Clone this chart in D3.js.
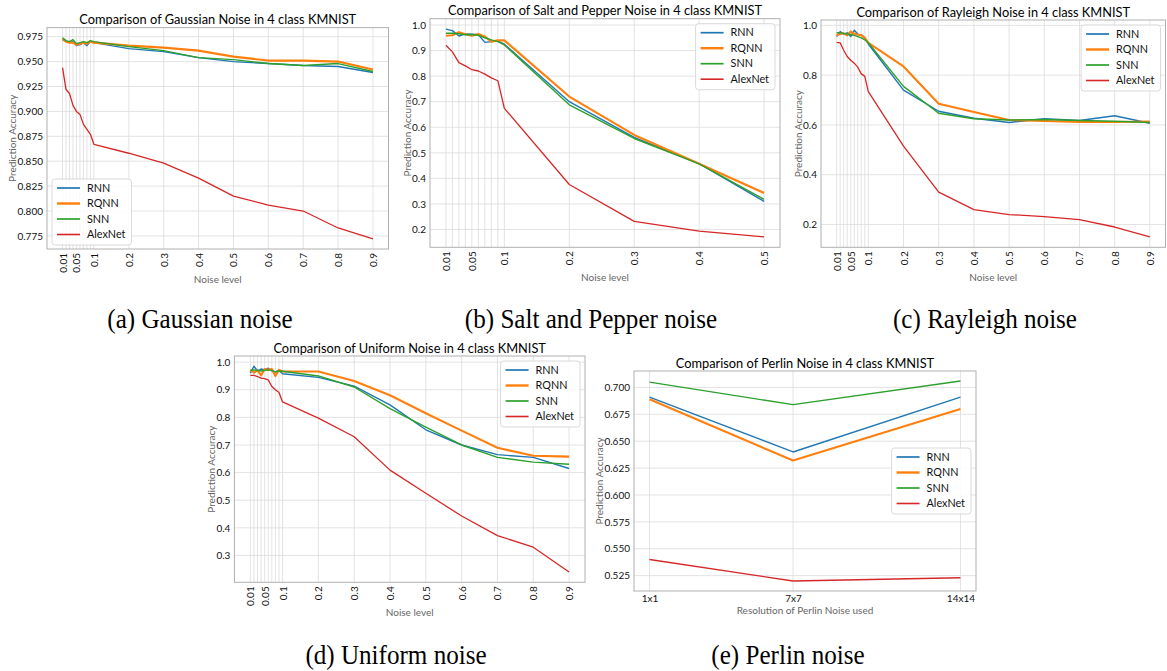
<!DOCTYPE html>
<html>
<head>
<meta charset="utf-8">
<script src="https://cdn.jsdelivr.net/npm/d3@7"></script>
<style>
  body { margin: 0; background: #fff; }
  svg { display: block; font-family: Lato, "Open Sans", sans-serif; }
</style>
</head>
<body>
<svg id="chart" width="1167" height="671"></svg>
<script>
// ---- data ----
const noiseLevels = [0.01, 0.02, 0.03, 0.04, 0.05, 0.06, 0.07, 0.08, 0.09, 0.1, 0.2, 0.3, 0.4, 0.5, 0.6, 0.7, 0.8, 0.9];
const spLevels = [0.01, 0.02, 0.03, 0.04, 0.05, 0.06, 0.07, 0.08, 0.09, 0.1, 0.2, 0.3, 0.4, 0.5];
const noiseTickLabels = [0.01, 0.05, 0.1, 0.2, 0.3, 0.4, 0.5, 0.6, 0.7, 0.8, 0.9];
const spTickLabels = [0.01, 0.05, 0.1, 0.2, 0.3, 0.4, 0.5];
const perlinRes = [1, 7, 14];
const perlinLabels = ["1x1", "7x7", "14x14"];
const models = ["RNN", "RQNN", "SNN", "AlexNet"];

const gaussRNN     = [0.972, 0.970, 0.969, 0.970, 0.966, 0.967, 0.969, 0.966, 0.970, 0.969, 0.963, 0.960, 0.954, 0.950, 0.948, 0.946, 0.945, 0.939];
const gaussRQNN    = [0.973, 0.970, 0.969, 0.969, 0.967, 0.968, 0.969, 0.968, 0.970, 0.969, 0.966, 0.964, 0.961, 0.955, 0.951, 0.951, 0.950, 0.942];
const gaussSNN     = [0.974, 0.971, 0.970, 0.972, 0.968, 0.969, 0.970, 0.969, 0.971, 0.970, 0.965, 0.961, 0.954, 0.952, 0.948, 0.946, 0.948, 0.940];
const gaussAlexNet = [0.944, 0.922, 0.918, 0.906, 0.900, 0.897, 0.887, 0.882, 0.877, 0.867, 0.858, 0.848, 0.833, 0.815, 0.806, 0.800, 0.783, 0.772];

const spRNN     = [0.984, 0.978, 0.957, 0.965, 0.964, 0.962, 0.932, 0.935, 0.937, 0.925, 0.700, 0.560, 0.458, 0.310];
const spRQNN    = [0.958, 0.960, 0.972, 0.964, 0.958, 0.965, 0.955, 0.935, 0.940, 0.940, 0.720, 0.570, 0.457, 0.343];
const spSNN     = [0.968, 0.968, 0.966, 0.962, 0.963, 0.960, 0.950, 0.942, 0.935, 0.922, 0.688, 0.556, 0.457, 0.318];
const spAlexNet = [0.921, 0.895, 0.853, 0.840, 0.825, 0.820, 0.808, 0.793, 0.782, 0.674, 0.376, 0.232, 0.194, 0.171];

const rayRNN     = [0.955, 0.975, 0.965, 0.970, 0.955, 0.980, 0.965, 0.962, 0.950, 0.925, 0.740, 0.655, 0.627, 0.610, 0.625, 0.618, 0.637, 0.607];
const rayRQNN    = [0.960, 0.965, 0.968, 0.960, 0.975, 0.966, 0.962, 0.960, 0.950, 0.930, 0.835, 0.685, 0.652, 0.620, 0.616, 0.612, 0.612, 0.614];
const raySNN     = [0.970, 0.970, 0.968, 0.965, 0.963, 0.960, 0.955, 0.950, 0.942, 0.930, 0.755, 0.647, 0.625, 0.620, 0.622, 0.618, 0.615, 0.610];
const rayAlexNet = [0.932, 0.930, 0.900, 0.875, 0.860, 0.848, 0.832, 0.805, 0.795, 0.734, 0.515, 0.330, 0.260, 0.240, 0.232, 0.220, 0.190, 0.150];

const uniRNN     = [0.960, 0.985, 0.968, 0.975, 0.972, 0.978, 0.968, 0.965, 0.970, 0.958, 0.945, 0.913, 0.845, 0.755, 0.700, 0.665, 0.655, 0.615];
const uniRQNN    = [0.972, 0.962, 0.970, 0.952, 0.975, 0.972, 0.975, 0.950, 0.972, 0.966, 0.966, 0.932, 0.880, 0.815, 0.752, 0.690, 0.661, 0.658];
const uniSNN     = [0.970, 0.972, 0.970, 0.968, 0.970, 0.972, 0.970, 0.965, 0.968, 0.967, 0.950, 0.910, 0.832, 0.765, 0.700, 0.655, 0.638, 0.630];
const uniAlexNet = [0.952, 0.952, 0.948, 0.942, 0.940, 0.936, 0.912, 0.900, 0.890, 0.856, 0.797, 0.730, 0.609, 0.525, 0.443, 0.372, 0.330, 0.240];

const perlinRNN     = [0.691, 0.640, 0.691];
const perlinRQNN    = [0.689, 0.632, 0.680];
const perlinSNN     = [0.705, 0.684, 0.706];
const perlinAlexNet = [0.540, 0.520, 0.523];

const yTicksGauss = [0.775, 0.800, 0.825, 0.850, 0.875, 0.900, 0.925, 0.950, 0.975];
const yTicksSP = [0.2, 0.3, 0.4, 0.5, 0.6, 0.7, 0.8, 0.9, 1.0];
const yTicksRay = [0.2, 0.4, 0.6, 0.8, 1.0];
const yTicksUni = [0.3, 0.4, 0.5, 0.6, 0.7, 0.8, 0.9, 1.0];
const yTicksPerlin = [0.525, 0.550, 0.575, 0.600, 0.625, 0.650, 0.675, 0.700];

const captions = ["(a) Gaussian noise", "(b) Salt and Pepper noise", "(c) Rayleigh noise", "(d) Uniform noise", "(e) Perlin noise"];

// ---- styling ----
const colors = ["#1f77b4", "#ff7f0e", "#2ca02c", "#d62728"];
const widths = [1.4, 2.1, 1.4, 1.3];

const svg = d3.select("#chart");

// matplotlib style 5% padding
function padded(ext) {
    const m = (ext[1] - ext[0]) * 0.05;
    return [ext[0] - m, ext[1] + m];
}

function drawPanel(p) {
    const g = svg.append("g");
    const box = p.box;
    const x = d3.scaleLinear().domain(padded(d3.extent(p.x))).range([box.l, box.r]);
    const allY = p.series.flat();
    const y = d3.scaleLinear().domain(padded(d3.extent(allY))).range([box.b, box.t]);

    // grid
    g.append("g").selectAll("line").data(p.x).join("line")
        .attr("x1", d => x(d)).attr("x2", d => x(d))
        .attr("y1", box.t).attr("y2", box.b)
        .attr("stroke", "#dcdcdc").attr("stroke-width", 0.8);
    g.append("g").selectAll("line").data(p.yTicks).join("line")
        .attr("x1", box.l).attr("x2", box.r)
        .attr("y1", d => y(d)).attr("y2", d => y(d))
        .attr("stroke", "#dcdcdc").attr("stroke-width", 0.8);

    // spines
    g.append("rect")
        .attr("x", box.l).attr("y", box.t)
        .attr("width", box.r - box.l).attr("height", box.b - box.t)
        .attr("fill", "none").attr("stroke", "#b0b0b0").attr("stroke-width", 1);

    // series
    const line = d3.line().x((d, i) => x(p.x[i])).y(d => y(d));
    p.series.forEach((s, i) => {
        g.append("path").datum(s)
            .attr("d", line)
            .attr("fill", "none")
            .attr("stroke", colors[i])
            .attr("stroke-width", widths[i])
            .attr("stroke-linejoin", "round");
    });

    // y axis
    const yAx = g.append("g").attr("transform", `translate(${box.l},0)`)
        .call(d3.axisLeft(y).tickValues(p.yTicks).tickFormat(d3.format(p.yFmt)).tickSize(0).tickPadding(4))
        .call(a => a.select(".domain").remove());
    yAx.selectAll("text").attr("font-size", 10).attr("font-family", "Lato").attr("fill", "#111");

    // x axis
    const xAx = g.append("g").attr("transform", `translate(0,${box.b})`)
        .call(d3.axisBottom(x).tickValues(p.xTicks).tickFormat(p.xFmt).tickSize(0).tickPadding(4))
        .call(a => a.select(".domain").remove());
    xAx.selectAll("text").attr("font-size", 10).attr("font-family", "Lato").attr("fill", "#111");
    if (p.rotate) {
        xAx.selectAll("text")
            .attr("transform", "rotate(-90)")
            .attr("x", -4).attr("y", 0).attr("dy", "0.35em")
            .attr("text-anchor", "end");
    }

    // labels
    const yb = yAx.node().getBBox();
    const xb = xAx.node().getBBox();
    const cy = (box.t + box.b) / 2;
    g.append("text")
        .attr("transform", `translate(${box.l + yb.x - 1.5},${cy}) rotate(-90)`)
        .attr("text-anchor", "middle")
        .attr("font-size", 10).attr("fill", "#666")
        .text("Prediction Accuracy");
    g.append("text")
        .attr("x", (box.l + box.r) / 2).attr("y", box.b + xb.height + 10)
        .attr("text-anchor", "middle")
        .attr("font-size", 10).attr("fill", "#666")
        .text(p.xLabel);
    g.append("text")
        .attr("x", (box.l + box.r) / 2).attr("y", box.t - 3.5)
        .attr("text-anchor", "middle")
        .attr("font-size", 12.8).attr("fill", "#000")
        .text(p.title);

    // legend
    const lg = g.append("g");
    const bg = lg.append("rect");
    const items = lg.selectAll("g").data(models).join("g")
        .attr("transform", (d, i) => `translate(0,${9 + i * 15.5})`);
    items.append("line")
        .attr("x1", 5).attr("x2", 28)
        .attr("stroke", (d, i) => colors[i])
        .attr("stroke-width", (d, i) => widths[i] + 0.3);
    items.append("text")
        .attr("x", 35).attr("dy", "0.35em")
        .attr("font-size", 10.8).attr("fill", "#111")
        .text(d => d);
    const tw = d3.max(items.select("text").nodes(), n => n.getComputedTextLength());
    const lw = 35 + tw + 6, lh = 66;
    bg.attr("width", lw).attr("height", lh).attr("rx", 3)
        .attr("fill", "#fff").attr("fill-opacity", 0.85)
        .attr("stroke", "#d0d0d0").attr("stroke-width", 0.8);
    let lx, ly;
    if (p.legend === "lower left") { lx = box.l + 5; ly = box.b - 4 - lh; }
    else if (p.legend === "center right") { lx = box.r - 5 - lw; ly = (box.t + box.b) / 2 - lh / 2; }
    else { lx = box.r - 5 - lw; ly = box.t + 5; }
    lg.attr("transform", `translate(${lx},${ly})`);
}

const noiseFmt = d => (noiseTickLabels.includes(d) || spTickLabels.includes(d)) ? String(d) : "";

const panels = [
    { title: "Comparison of Gaussian Noise in 4 class KMNIST", box: { l: 47, r: 388.5, t: 27.6, b: 249 },
      x: noiseLevels, xTicks: noiseTickLabels, xFmt: noiseFmt, rotate: true, xLabel: "Noise level",
      yTicks: yTicksGauss, yFmt: ".3f", legend: "lower left",
      series: [gaussRNN, gaussRQNN, gaussSNN, gaussAlexNet] },
    { title: "Comparison of Salt and Pepper Noise in 4 class KMNIST", box: { l: 430, r: 780, t: 18.7, b: 247.3 },
      x: spLevels, xTicks: spTickLabels, xFmt: noiseFmt, rotate: true, xLabel: "Noise level",
      yTicks: yTicksSP, yFmt: ".1f", legend: "upper right",
      series: [spRNN, spRQNN, spSNN, spAlexNet] },
    { title: "Comparison of Rayleigh Noise in 4 class KMNIST", box: { l: 821, r: 1165.5, t: 20, b: 247.3 },
      x: noiseLevels, xTicks: noiseTickLabels, xFmt: noiseFmt, rotate: true, xLabel: "Noise level",
      yTicks: yTicksRay, yFmt: ".1f", legend: "upper right",
      series: [rayRNN, rayRQNN, raySNN, rayAlexNet] },
    { title: "Comparison of Uniform Noise in 4 class KMNIST", box: { l: 234.4, r: 585, t: 356, b: 582.3 },
      x: noiseLevels, xTicks: noiseTickLabels, xFmt: noiseFmt, rotate: true, xLabel: "Noise level",
      yTicks: yTicksUni, yFmt: ".1f", legend: "upper right",
      series: [uniRNN, uniRQNN, uniSNN, uniAlexNet] },
    { title: "Comparison of Perlin Noise in 4 class KMNIST", box: { l: 634, r: 976, t: 371, b: 591 },
      x: perlinRes, xTicks: perlinRes, xFmt: (d, i) => perlinLabels[i], rotate: false, xLabel: "Resolution of Perlin Noise used",
      yTicks: yTicksPerlin, yFmt: ".3f", legend: "center right",
      series: [perlinRNN, perlinRQNN, perlinSNN, perlinAlexNet] }
];

panels.forEach(drawPanel);

// sub-figure captions (Times-like, slightly condensed)
const capPos = [[200, 328], [591, 328], [985, 328], [396, 664], [788, 664]];
svg.append("g").selectAll("text").data(captions).join("text")
    .attr("transform", (d, i) => `translate(${capPos[i][0]},${capPos[i][1]}) scale(0.93,1)`)
    .attr("text-anchor", "middle")
    .attr("font-family", "Liberation Serif, serif")
    .attr("font-size", 27)
    .attr("fill", "#000")
    .text(d => d);
</script>
</body>
</html>
